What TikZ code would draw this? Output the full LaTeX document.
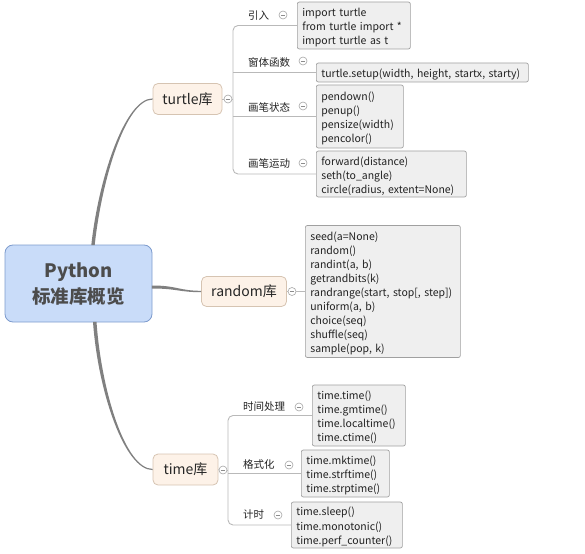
\documentclass[tikz,border=0pt]{standalone}
\usepackage{fontspec}
\setmainfont{Noto Sans CJK SC}
\usetikzlibrary{calc}
\definecolor{mainfill}{RGB}{201,220,249}
\definecolor{mainedge}{RGB}{125,155,205}
\definecolor{subfill}{RGB}{253,242,232}
\definecolor{subedge}{RGB}{214,196,178}
\definecolor{leaffill}{RGB}{239,239,239}
\definecolor{leafedge}{RGB}{160,160,160}
\definecolor{conncol}{RGB}{128,128,128}
\definecolor{brcol}{RGB}{185,185,185}
\definecolor{txt}{RGB}{34,34,34}
\begin{document}
\begin{tikzpicture}[x=1pt,y=-1pt,
 mainnode/.style={draw=mainedge, fill=mainfill, rounded corners=8pt, minimum width=147pt, minimum height=77pt, align=center, font=\fontsize{18.5}{26}\selectfont\bfseries, text=black!70, line width=0.8pt},
 subnode/.style={draw=subedge, fill=subfill, rounded corners=5pt, minimum height=31pt, font=\fontsize{14}{16}\selectfont, text=black!85, line width=0.8pt},
 leaf/.style={draw=leafedge, fill=leaffill, rounded corners=2pt, anchor=west, align=left, inner xsep=5pt, inner ysep=0pt, font=\fontsize{10.5}{14.1}\selectfont, text=txt, line width=0.7pt, execute at begin node={\rule{0pt}{12.5pt}}},
 blabel/.style={anchor=west, font=\fontsize{10.5}{12}\selectfont, text=txt, inner sep=0pt},
 marker/.style={circle, draw=black!35, fill=white, minimum size=8pt, inner sep=0pt, line width=0.6pt, path picture={\draw[black!45, line width=0.6pt] ([xshift=-2.2pt]path picture bounding box.center) -- ([xshift=2.2pt]path picture bounding box.center);}},
 br/.style={draw=brcol, line width=0.9pt},
 conn/.style={fill=conncol}
]
\useasboundingbox (0,0) rectangle (585,553);

% main and first-level nodes
\node[mainnode] (main) at (78.5,283.5) {\rule{0pt}{16pt}Python\\标准库概览};
\node[subnode, minimum width=69pt] (turtle) at (187.5,99) {turtle库};
\node[subnode, minimum width=85pt, minimum height=30pt] (random) at (244,291.5) {random库};
\node[subnode, minimum width=65pt] (time) at (185.5,469.5) {time库};

% markers
\node[marker] (tm) at (228,99) {};
\node[marker] (rm) at (292,291.5) {};
\node[marker] (tim) at (223,470) {};

% turtle leaves
\node[leaf, text width=103pt, minimum height=47pt] (imp) at (297,25.5) {import turtle\\from turtle import *\\import turtle as t};
\node[leaf, text width=202pt, minimum height=19pt] (setup) at (316,72.5) {turtle.setup(width, height, startx, starty)};
\node[leaf, text width=77pt, minimum height=63pt] (state) at (316,116.5) {pendown()\\penup()\\pensize(width)\\pencolor()};
\node[leaf, text width=140pt, minimum height=46pt] (mot) at (316,174) {forward(distance)\\seth(to\_angle)\\circle(radius, extent=None)};

% random leaf
\node[leaf, text width=145pt, minimum height=132pt] (rbox) at (305,291.5) {seed(a=None)\\random()\\randint(a, b)\\getrandbits(k)\\randrange(start, stop[, step])\\uniform(a, b)\\choice(seq)\\shuffle(seq)\\sample(pop, k)};

% time leaves
\node[leaf, text width=83pt, minimum height=61pt] (t1) at (312,415.5) {time.time()\\time.gmtime()\\time.localtime()\\time.ctime()};
\node[leaf, text width=78pt, minimum height=47pt] (t2) at (301,473.5) {time.mktime()\\time.strftime()\\time.strptime()};
\node[leaf, text width=101pt, minimum height=46pt] (t3) at (291,525) {time.sleep()\\time.monotonic()\\time.perf\_counter()};

% branch labels
\node[blabel] (l1) at (248,16) {引入};
\node[blabel] (l2) at (248,63) {窗体函数};
\node[blabel] (l3) at (248,107) {画笔状态};
\node[blabel] (l4) at (248,164) {画笔运动};
\node[blabel] (l5) at (243,407) {时间处理};
\node[blabel] (l6) at (243,465) {格式化};
\node[blabel] (l7) at (243,515) {计时};
\node[marker] (m1) at (283,15) {};
\node[marker] (m2) at (303,61) {};
\node[marker] (m3) at (303,106) {};
\node[marker] (m4) at (303,163) {};
\node[marker] (m5) at (299,407) {};
\node[marker] (m6) at (289,465) {};
\node[marker] (m7) at (278,515) {};

% brackets
\coordinate (tx) at (233,99);
\coordinate (tx2) at (228,470);
\draw[br, rounded corners=5pt] (imp.west) -| (tx |- mot.west) -- (mot.west);
\draw[br] (tx |- setup.west) -- (setup.west);
\draw[br] (tx |- state.west) -- (state.west);
\draw[br] (turtle.east) -- (tm.west);
\draw[br] (tm.east) -- (tx |- tm);

\draw[br] (random.east) -- (rm.west);
\draw[br] (rm.east) -- (rbox.west);

\draw[br, rounded corners=5pt] (t1.west) -| (tx2 |- t3.west) -- (t3.west);
\draw[br] (tx2 |- t2.west) -- (t2.west);
\draw[br] (time.east) -- (tim.west);
\draw[br] (tim.east) -- (tx2 |- tim);

% main tapered connectors
\fill[conn] ($(main.north)+(12.8,0.5)$) .. controls +(7,-65) and +(-28,0) .. ($(turtle.west)+(0,-0.6)$) -- ($(turtle.west)+(0,0.6)$) .. controls +(-27,0) and +(7,-65) .. ($(main.north)+(16.2,0.5)$) -- cycle;
\fill[conn] ($(main.east)+(-0.5,2)$) .. controls +(25,0) and +(-22,0) .. ($(random.west)+(0,-0.7)$) -- ($(random.west)+(0,0.7)$) .. controls +(-22,0) and +(25,0) .. ($(main.east)+(-0.5,5)$) -- cycle;
\fill[conn] ($(main.south)+(14.5,-0.5)$) .. controls +(5,70) and +(-28,0) .. ($(time.west)+(0,0.6)$) -- ($(time.west)+(0,-0.6)$) .. controls +(-27,0) and +(5,70) .. ($(main.south)+(18,-0.5)$) -- cycle;
\end{tikzpicture}
\end{document}
